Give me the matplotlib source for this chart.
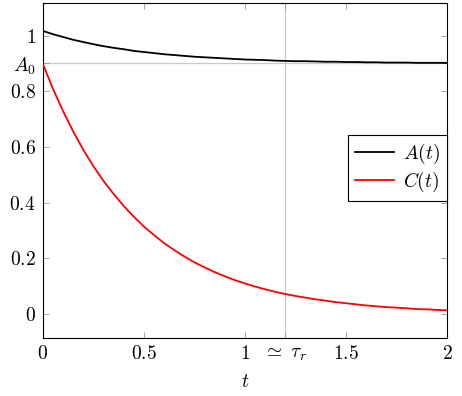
import matplotlib
matplotlib.use("Agg")
import matplotlib.pyplot as plt

plt.rcParams['mathtext.fontset'] = 'cm'
plt.rcParams['font.family'] = 'serif'
plt.rcParams['font.serif'] = ['DejaVu Serif']

# curves, every 0.05 in t
t = [0.00, 0.05, 0.10, 0.15, 0.20, 0.25, 0.30, 0.35, 0.40, 0.45,
     0.50, 0.55, 0.60, 0.65, 0.70, 0.75, 0.80, 0.85, 0.90, 0.95,
     1.00, 1.05, 1.10, 1.15, 1.20, 1.25, 1.30, 1.35, 1.40, 1.45,
     1.50, 1.55, 1.60, 1.65, 1.70, 1.75, 1.80, 1.85, 1.90, 1.95, 2.00]
A = [1.017, 1.005, 0.995, 0.985, 0.977, 0.969, 0.962, 0.956, 0.951, 0.945,
     0.941, 0.937, 0.933, 0.930, 0.927, 0.924, 0.922, 0.920, 0.918, 0.916,
     0.914, 0.913, 0.912, 0.910, 0.909, 0.908, 0.908, 0.907, 0.906, 0.906,
     0.905, 0.905, 0.904, 0.904, 0.903, 0.903, 0.903, 0.902, 0.902, 0.902, 0.902]
C = [0.900, 0.810, 0.730, 0.657, 0.591, 0.532, 0.479, 0.432, 0.389, 0.350,
     0.315, 0.284, 0.255, 0.230, 0.207, 0.186, 0.168, 0.151, 0.136, 0.122,
     0.110, 0.099, 0.089, 0.080, 0.072, 0.065, 0.059, 0.053, 0.048, 0.043,
     0.039, 0.035, 0.031, 0.028, 0.025, 0.023, 0.021, 0.018, 0.017, 0.015, 0.0135]

A0 = 0.9
tau_r = 1.2

xticks = [0, 0.5, 1, tau_r, 1.5, 2]
xticklabels = [r'$0$', r'$0.5$', r'$1$', r'$\simeq\ \tau_r$', r'$1.5$', r'$2$']
yticks = [0, 0.2, 0.4, 0.6, 0.8, A0, 1]
yticklabels = [r'$0$', r'$0.2$', r'$0.4$', r'$0.6$', r'$0.8$', r'$A_0$', r'$1$']

fig = plt.figure(figsize=(4.62, 3.96), dpi=100)
ax = fig.add_axes([0.0924, 0.1457, 0.8751, 0.8475])

ax.axhline(A0, color='#c8c8c8', lw=0.9, zorder=1)
ax.axvline(tau_r, color='#c8c8c8', lw=0.9, zorder=1)

ax.plot(t, A, color='black', lw=1.3, label=r'$A(t)$', zorder=3)
ax.plot(t, C, color='red', lw=1.3, label=r'$C(t)$', zorder=3)

ax.set_xlim(0, 2)
ax.set_ylim(-0.087, 1.118)
ax.set_xticks(xticks)
ax.set_xticklabels(xticklabels)
ax.set_yticks(yticks)
ax.set_yticklabels(yticklabels)
ax.tick_params(direction='in', top=True, right=True, length=4, width=0.6,
               color='#999999', labelsize=14, pad=5)
ax.set_xlabel(r'$t$', fontsize=14, labelpad=7)
for s in ax.spines.values():
    s.set_linewidth(0.8)

leg = ax.legend(loc='center right', bbox_to_anchor=(1.0, 0.507), fontsize=14,
                fancybox=False, framealpha=1, edgecolor='black',
                borderaxespad=0, handlelength=2.0, borderpad=0.35,
                labelspacing=0.2, handletextpad=0.5)
leg.get_frame().set_linewidth(0.8)

fig.savefig('out.png', dpi=100)
